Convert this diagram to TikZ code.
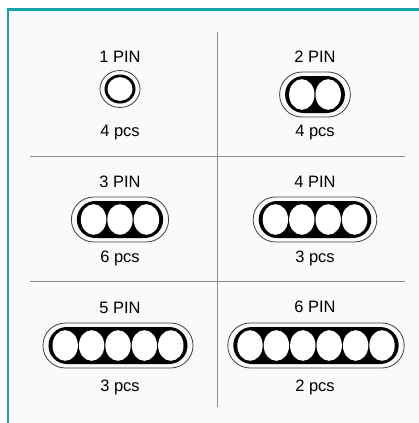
\documentclass[tikz,border=0pt]{standalone}
\usepackage{fontspec}
\setmainfont{Liberation Sans}
\definecolor{rahmen}{HTML}{13A3A9}
\definecolor{hinter}{HTML}{FAFAFA}
\tikzset{
    beschriftung/.style={font=\fontsize{16.5}{19}\selectfont},
    gitter/.style={draw=gray!90,line width=0.8pt},
    steckerrand/.style={draw=black!75,line width=0.8pt}
}

\begin{document}
\begin{tikzpicture}[x=1pt,y=-1pt]
        \clip (0,0) rectangle (419,423);

        % Rahmen
        \fill[hinter] (8,9.5) rectangle (430,430);
        \draw[rahmen,line width=2.7pt] (8,430) -- (8,9.5) -- (430,9.5);

        % Gitter
        \draw[gitter] (217,32) -- (217,407);
        \foreach \y in {156,281} {
            \draw[gitter] (30,\y) -- (405,\y);
        }

        % Beschriftung oben und unten
        \foreach \name/\x/\yo/\yu/\pin/\stk in {a/120/57/133/1/4, b/315/57/133/2/4, c/120/182/258/3/6, d/315/182/258/4/3, e/120/308/387/5/3, f/315/307/387/6/2} {
            \node[beschriftung] (pin\name) at (\x,\yo) {\pin\ PIN}; % Pole
            \node[beschriftung] (pcs\name) at (\x,\yu) {\stk\ pcs}; % Stueckzahl
        }

        % Stecker mit einem Pol
        \draw[steckerrand] (120,89) ellipse (20 and 18.5);
        \fill (120,89) ellipse (15.5 and 14.5);
        \fill[white] (120,89) ellipse (12.5 and 11.8);

        % Stecker mit mehreren Polen
        \foreach \x/\y/\n in {315/94.5/2, 120/219.5/3, 315/219.5/4, 118/345.5/5, 316/345.5/6} {
            \pgfmathsetmacro\b{\n*13.2}
            \draw[steckerrand,rounded corners=22.4pt] (\x-\b-9,\y-22.5) rectangle (\x+\b+9,\y+22.5);
            \fill[rounded corners=18.4pt] (\x-\b-3.5,\y-18.5) rectangle (\x+\b+3.5,\y+18.5);
            \foreach \i in {1,...,\n} {
                \fill[white] ({\x+(\i-(\n+1)/2)*26.4},\y) ellipse (12.7 and 15.3); % Pole
            }
        }
    \end{tikzpicture}
\end{document}
